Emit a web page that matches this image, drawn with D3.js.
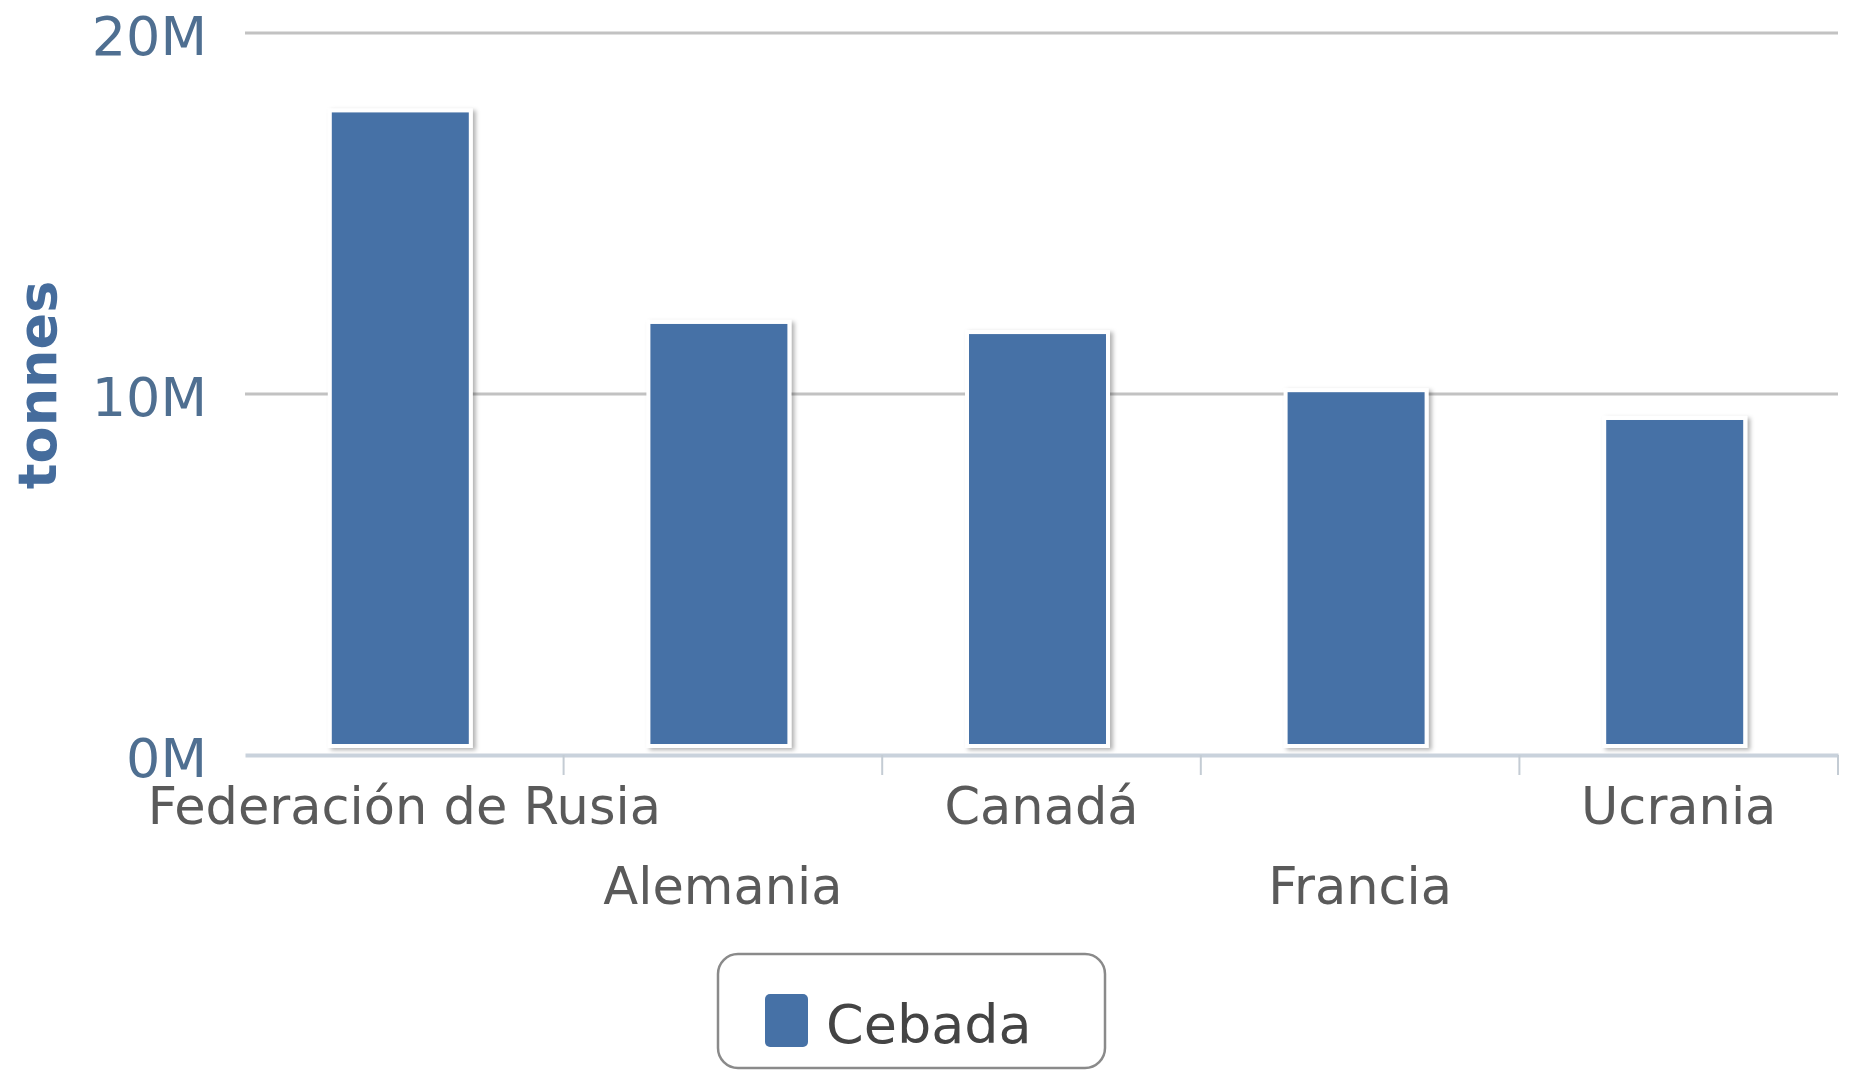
<!DOCTYPE html>
<html>
<head>
<meta charset="utf-8">
<script src="https://cdn.jsdelivr.net/npm/d3@7"></script>
<style>
  body { margin: 0; background: #fff; }
  text { font-family: "DejaVu Sans", Verdana, sans-serif; }
</style>
</head>
<body>
<div id="container"></div>
<script>
/* DATA */
const categories = ["Federación de Rusia", "Alemania", "Canadá", "Francia", "Ucrania"];
const cebada = [17.8e6, 11.94e6, 11.66e6, 10.05e6, 9.28e6];
const yTicks = [0, 10e6, 20e6];
const seriesName = "Cebada";
const yTitle = "tonnes";

/* CONSTANTS */
const width = 1851,
  height = 1071,
  margin = { top: 33, bottom: 316, left: 245, right: 13 };

const barColor = "#4671a6";

const svg = d3.select("#container").append("svg")
  .attr("width", width)
  .attr("height", height);

// soft shadow under bars
const defs = svg.append("defs");
defs.append("filter")
  .attr("id", "shadow")
  .attr("x", "-20%").attr("y", "-20%")
  .attr("width", "140%").attr("height", "140%")
  .append("feDropShadow")
  .attr("dx", 3).attr("dy", 2)
  .attr("stdDeviation", 2)
  .attr("flood-color", "#000")
  .attr("flood-opacity", 0.3);

/* SCALES */
const xScale = d3.scaleBand()
  .domain(categories)
  .range([margin.left, width - margin.right]);

const yScale = d3.scaleLinear()
  .domain([0, 20e6])
  .range([height - margin.bottom, margin.top]);

const barW = xScale.bandwidth() * 0.43;
const barShift = -4;

/* GRID */
svg.append("g")
  .selectAll("line")
  .data(yTicks.filter(d => d > 0))
  .join("line")
  .attr("x1", margin.left)
  .attr("x2", width - margin.right)
  .attr("y1", d => yScale(d))
  .attr("y2", d => yScale(d))
  .attr("stroke", "#c2c2c2")
  .attr("stroke-width", 3);

/* Y AXIS LABELS */
const yAxis = d3.axisLeft(yScale)
  .tickValues(yTicks)
  .tickFormat(d => d / 1e6 + "M")
  .tickSize(0)
  .tickPadding(38);

const gy = svg.append("g")
  .attr("transform", `translate(${margin.left},0)`)
  .call(yAxis);
gy.select(".domain").remove();
gy.selectAll("text")
  .attr("dy", "0.4em")
  .style("font-size", "54px")
  .attr("fill", "#4f6f91");

/* BARS */
const bars = svg.append("g")
  .selectAll("g")
  .data(categories.map((c, i) => ({ name: c, value: cebada[i] })))
  .join("g");

// white frame with shadow
bars.append("rect")
  .attr("x", d => xScale(d.name) + xScale.bandwidth() / 2 - barW / 2 - 4 + barShift)
  .attr("y", d => yScale(d.value) - 4)
  .attr("width", barW + 8)
  .attr("height", d => yScale(0) - 11 - yScale(d.value) + 8)
  .attr("fill", "#fff")
  .attr("filter", "url(#shadow)");

bars.append("rect")
  .attr("x", d => xScale(d.name) + xScale.bandwidth() / 2 - barW / 2 + barShift)
  .attr("y", d => yScale(d.value))
  .attr("width", barW)
  .attr("height", d => yScale(0) - 11 - yScale(d.value))
  .attr("fill", barColor);

/* X AXIS */
const xAxis = d3.axisBottom(xScale).tickSize(0).tickPadding(0);
const gx = svg.append("g")
  .attr("transform", `translate(0,${yScale(0)})`)
  .call(xAxis);
gx.select(".domain")
  .attr("stroke", "#c9d2dc")
  .attr("stroke-width", 4);
gx.selectAll("text")
  .style("font-size", "51px")
  .attr("fill", "#5a5a5a")
  .attr("dy", null)
  .attr("y", (d, i) => i % 2 === 0 ? 69 : 149);

// tick marks between categories
gx.append("g")
  .selectAll("line")
  .data(categories)
  .join("line")
  .attr("x1", d => xScale(d) + xScale.bandwidth())
  .attr("x2", d => xScale(d) + xScale.bandwidth())
  .attr("y1", 0)
  .attr("y2", 20)
  .attr("stroke", "#c4ccd4")
  .attr("stroke-width", 2);

/* Y TITLE */
svg.append("text")
  .attr("transform", `translate(56,385) rotate(-90)`)
  .attr("text-anchor", "middle")
  .style("font-size", "54px")
  .style("font-weight", "bold")
  .attr("fill", "#456c9c")
  .text(yTitle);

/* LEGEND */
const legend = svg.append("g").attr("transform", "translate(718,954)");
legend.append("rect")
  .attr("width", 387)
  .attr("height", 114)
  .attr("rx", 20)
  .attr("fill", "#fff")
  .attr("stroke", "#8a8a8a")
  .attr("stroke-width", 2.5);
legend.append("rect")
  .attr("x", 47).attr("y", 40)
  .attr("width", 43).attr("height", 53)
  .attr("rx", 5)
  .attr("fill", barColor);
legend.append("text")
  .attr("x", 108).attr("y", 89)
  .style("font-size", "54px")
  .attr("fill", "#444")
  .text(seriesName);
</script>
</body>
</html>
